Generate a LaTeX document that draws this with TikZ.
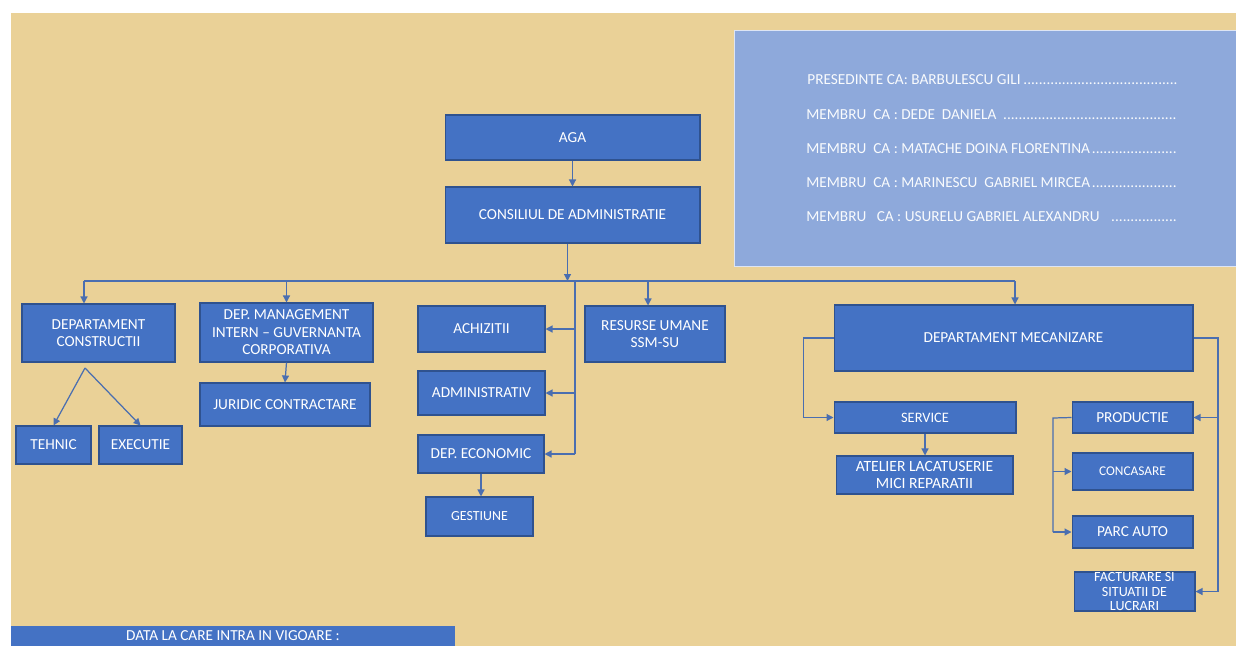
\documentclass[tikz,border=0pt]{standalone}
\usepackage{fontspec}
\setmainfont{Carlito}
\usepackage{tikz}
\usetikzlibrary{arrows.meta, positioning, calc}
\definecolor{orgblue}{HTML}{4472C4}
\definecolor{orgedge}{HTML}{2F528F}
\definecolor{orgline}{HTML}{4A6EB0}
\definecolor{boardblue}{HTML}{8EA9DB}
\definecolor{parchment}{HTML}{EAD197}
\newcommand\dotrow[1]{\hbox to 7.42cm{#1\leaders\hbox{.}\hfill}}

\begin{document}
\begin{tikzpicture}[
    x=0.02cm, y=-0.02cm,
    box/.style={draw=orgedge, line width=0.6pt, fill=orgblue, text=white, align=center,
                inner sep=1pt, font=\fontsize{8.7}{10}\selectfont},
    small/.style={font=\fontsize{7.9}{9}\selectfont},
    arrow/.style={-{Triangle[length=1.4mm, width=1.4mm]}, color=orgline, line width=0.7pt},
    wire/.style={color=orgline, line width=0.7pt},
    member/.style={anchor=west, text=white!95!boardblue, font=\fontsize{8.7}{9}\selectfont,
                   inner sep=0pt}
]

% Page and parchment
\useasboundingbox (0,0) rectangle (1236,646);
\fill[white] (0,0) rectangle (1236,646);
\fill[parchment] (11,13) rectangle (1236,646);

% Board members
\node[fill=boardblue, draw=white!70!boardblue, minimum width=10.04cm, minimum height=4.72cm,
      inner sep=0pt] (board) at (985,148) {};
\node[member] (m1) at (807,80) {\dotrow{PRESEDINTE CA: BARBULESCU GILI}};
\node[member] (m2) at (806,115) {\dotrow{MEMBRU\ \ CA : DEDE\ \ DANIELA\ }};
\node[member] (m3) at (806,149) {\dotrow{MEMBRU\ \ CA : MATACHE DOINA FLORENTINA}};
\node[member] (m4) at (806,183) {\dotrow{MEMBRU\ \ CA : MARINESCU\ \ GABRIEL MIRCEA}};
\node[member] (m5) at (806,217) {\dotrow{MEMBRU\ \ \ CA : USURELU GABRIEL ALEXANDRU\ \ \ }};

% Top level
\node[box, minimum width=5.10cm, minimum height=0.90cm] (aga) at (572.5,137.5) {AGA};
\node[box, minimum width=5.10cm, minimum height=1.12cm] (ca) at (572.5,215) {CONSILIUL DE ADMINISTRATIE};

% Left departments
\node[box, minimum width=3.06cm, minimum height=1.16cm] (constr) at (98.5,333) {DEPARTAMENT\\CONSTRUCTII};
\node[box, minimum width=1.50cm, minimum height=0.76cm] (tehnic) at (53.5,445) {TEHNIC};
\node[box, minimum width=1.66cm, minimum height=0.76cm] (executie) at (140.5,445) {EXECUTIE};
\node[box, minimum width=3.46cm, minimum height=1.18cm] (mgmt) at (286.5,332.5) {DEP. MANAGEMENT\\INTERN -- GUVERNANTA\\CORPORATIVA};
\node[box, minimum width=3.40cm, minimum height=0.86cm] (juridic) at (285,404.5) {JURIDIC CONTRACTARE};

% Middle departments
\node[box, minimum width=2.54cm, minimum height=0.92cm] (achiz) at (481.5,329) {ACHIZITII};
\node[box, minimum width=2.54cm, minimum height=0.88cm] (admin) at (481.5,393) {ADMINISTRATIV};
\node[box, minimum width=2.52cm, minimum height=0.76cm] (econ) at (481,454) {DEP. ECONOMIC};
\node[box, small, minimum width=2.14cm, minimum height=0.78cm] (gest) at (479.5,516.5) {GESTIUNE};
\node[box, minimum width=2.80cm, minimum height=1.12cm] (resurse) at (655,334) {RESURSE UMANE\\SSM-SU};

% Mecanizare
\node[box, minimum width=7.18cm, minimum height=1.32cm] (mecan) at (1013.5,338) {DEPARTAMENT MECANIZARE};
\node[box, font=\fontsize{8.2}{9}\selectfont, minimum width=3.64cm, minimum height=0.62cm] (service) at (925,417.5) {SERVICE};
\node[box, minimum width=3.54cm, minimum height=0.76cm, inner ysep=0pt,
      font=\fontsize{8.9}{9.2}\selectfont] (atelier) at (924.5,475) {ATELIER LACATUSERIE\\MICI REPARATII};
\node[box, minimum width=2.42cm, minimum height=0.62cm] (productie) at (1132.5,417.5) {PRODUCTIE};
\node[box, font=\fontsize{7.6}{9}\selectfont, minimum width=2.42cm, minimum height=0.74cm] (concasare) at (1132.5,471.5) {CONCASARE};
\node[box, minimum width=2.42cm, minimum height=0.64cm] (parc) at (1132.5,532) {PARC AUTO};
\node[box, minimum width=2.42cm, minimum height=0.78cm, inner sep=0pt] (factur) at (1134.5,591.5) {};
\node[text=white, align=center, inner sep=0pt, font=\fontsize{8}{8.2}\selectfont] (facturtxt) at (factur) {FACTURARE SI\\SITUATII DE\\LUCRARI};

% Date bar
\node[box, draw=none, minimum width=8.88cm, minimum height=0.40cm, inner sep=0pt] (data) at (233,636) {DATA LA CARE INTRA IN VIGOARE :};

% Bus coordinates
\coordinate (barL) at (84,281);
\coordinate (barR) at (1015,281);
\coordinate (spine) at (575,281);
\coordinate (split) at (85,368);
\coordinate (rbus) at (1218,338);
\coordinate (pbus) at (1053,418);

% Connections
\draw[arrow] (aga) -- (ca);
\draw[arrow] (ca.south) ++(-5,0) coordinate (cadrop) -- (cadrop |- barL);
\draw[wire] (barL) -- (barR);
\draw[arrow] (barL) -- (barL |- constr.north);
\draw[arrow] (mgmt.north |- barL) -- (mgmt.north);
\draw[arrow] (resurse.north |- barL) ++(-7,0) coordinate (rtap) -- (rtap |- resurse.north);
\draw[arrow] (barR) -- (barR |- mecan.north);

\draw[arrow] (split) -- (tehnic.north);
\draw[arrow] (split) -- (executie.north);
\draw[arrow] (mgmt.south) -- (juridic.north);

\draw[wire] (spine) -- (spine |- econ.east);
\foreach \n in {achiz, admin, econ} {
    \draw[arrow] (spine |- \n.east) -- (\n.east);
}
\draw[arrow] (econ.south) -- (econ.south |- gest.north);

\draw[arrow] (mecan.west) -- ++(-30,0) |- (service.west);
\draw[arrow] (service.south) -- (service.south |- atelier.north);
\draw[wire] (mecan.east) -- (rbus) -- (rbus |- factur.east);
\foreach \n in {productie, factur} {
    \draw[arrow] (rbus |- \n.east) -- (\n.east);
}
\draw[wire] (productie.west) -- (pbus) -- (pbus |- parc.west);
\foreach \n in {concasare, parc} {
    \draw[arrow] (pbus |- \n.west) -- (\n.west);
}

\end{tikzpicture}
\end{document}
